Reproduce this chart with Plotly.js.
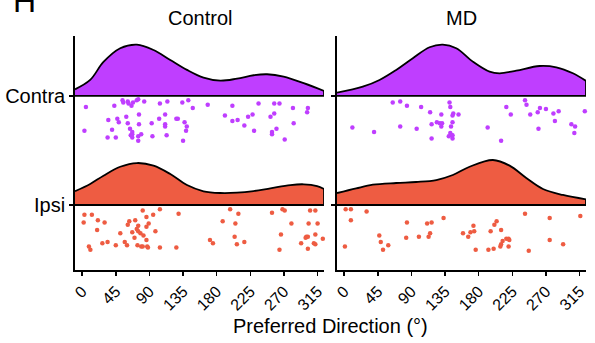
<!DOCTYPE html>
<html>
<head>
<meta charset="utf-8">
<script src="https://cdn.plot.ly/plotly-3.0.1.min.js"></script>
<style>html,body{margin:0;padding:0;background:#fff;}#chart{width:595px;height:343px;}</style>
</head>
<body>
<div id="chart"></div>
<script>
// ---- data ----
const panels = ["Control", "MD"];
const groups = ["Ipsi", "Contra"];
const tickValues = [0, 45, 90, 135, 180, 225, 270, 315];

// density ridges (x in degrees, height in row units)
const ctrlContraDensX = [-9.6, 10.7, 28.5, 50.9, 73.3, 95.5, 117.9, 140.2, 162.4, 184.8, 207.2, 229.4, 247.4, 269.6, 296.4, 323.6];
const ctrlContraDensH = [0.061, 0.147, 0.312, 0.438, 0.471, 0.422, 0.330, 0.239, 0.168, 0.140, 0.159, 0.190, 0.199, 0.177, 0.117, 0.046];
const mdContraDensX = [-9.6, 24.9, 47.3, 69.6, 91.9, 114.2, 132.0, 150.0, 172.2, 194.6, 208.0, 230.3, 261.5, 283.9, 306.1, 323.6];
const mdContraDensH = [0.030, 0.085, 0.147, 0.239, 0.346, 0.447, 0.471, 0.438, 0.315, 0.223, 0.208, 0.232, 0.275, 0.263, 0.208, 0.138];
const ctrlIpsiDensX = [-9.6, 10.7, 28.5, 50.9, 73.3, 95.5, 117.9, 140.2, 162.4, 184.8, 207.2, 229.4, 251.8, 278.6, 296.4, 314.3, 323.6];
const ctrlIpsiDensH = [0.126, 0.193, 0.269, 0.351, 0.385, 0.361, 0.284, 0.183, 0.126, 0.110, 0.113, 0.128, 0.153, 0.183, 0.190, 0.174, 0.147];
const mdIpsiDensX = [-9.6, 16.1, 38.3, 69.6, 96.4, 123.2, 145.4, 167.8, 199.0, 221.4, 243.7, 266.0, 292.8, 323.6];
const mdIpsiDensH = [0.110, 0.153, 0.186, 0.202, 0.211, 0.229, 0.275, 0.351, 0.413, 0.361, 0.248, 0.147, 0.092, 0.052];

// individual cells: preferred direction and jitter below the ridge baseline (row units)
const ctrlContraX = [5,3,43,54,55,61,62,66,68,73,75,83,104,114,134,142,148,168,201,236,257,264,282,302,301,35,47,49,59,76,61,76,93,103,111,111,111,126,128,137,140,139,40,64,67,67,65,67,34,45,75,79,75,94,113,135,191,201,208,217,222,228,230,252,257,260,254,254,271,283];
const ctrlContraJ = [.10,.32,.09,.04,.06,.05,.07,.09,.06,.04,.03,.05,.07,.05,.06,.04,.11,.08,.09,.07,.07,.07,.11,.11,.15,.22,.21,.24,.19,.17,.25,.26,.25,.21,.17,.26,.28,.21,.21,.24,.28,.32,.31,.30,.33,.35,.36,.38,.38,.38,.37,.35,.41,.37,.36,.41,.18,.23,.22,.27,.19,.17,.32,.19,.16,.30,.33,.35,.40,.25];
const mdContraX = [65,75,84,103,115,130,141,142,146,145,153,11,40,75,97,117,124,128,131,130,145,143,142,140,144,145,145,117,192,210,217,223,242,244,249,259,262,270,280,287,282,260,304,309,308,322];
const mdContraJ = [.06,.05,.09,.10,.15,.17,.06,.10,.16,.18,.17,.29,.33,.28,.30,.26,.24,.25,.25,.28,.24,.28,.34,.37,.36,.36,.39,.39,.29,.41,.10,.17,.04,.08,.17,.15,.11,.12,.16,.14,.23,.30,.26,.28,.34,.14];
const ctrlIpsiX = [3,13,2,21,30,20,9,11,27,34,45,51,57,60,61,63,71,67,73,75,75,78,70,81,86,89,86,82,86,74,79,81,87,88,95,104,98,104,129,126,171,175,188,198,209,205,204,207,217,254,268,271,280,266,264,305,312,303,315,312,300,302,299,293,310,312,302,322];
const ctrlIpsiJ = [.09,.09,.16,.14,.16,.23,.38,.41,.35,.34,.37,.26,.34,.37,.18,.15,.14,.25,.22,.19,.24,.26,.30,.05,.11,.17,.20,.28,.32,.37,.38,.38,.38,.39,.09,.04,.24,.39,.08,.39,.32,.35,.15,.04,.08,.17,.29,.36,.34,.07,.04,.05,.17,.27,.41,.05,.05,.17,.17,.27,.29,.29,.30,.35,.35,.36,.40,.31];
const mdIpsiX = [2,9,9,30,1,47,49,52,59,84,83,100,111,117,115,113,133,159,166,169,174,173,176,193,200,196,201,204,210,212,210,209,217,220,221,220,242,247,275,275,293,316];
const mdIpsiJ = [.04,.04,.14,.06,.38,.28,.34,.41,.37,.16,.30,.29,.17,.16,.26,.29,.12,.26,.29,.25,.24,.19,.41,.41,.40,.24,.18,.15,.23,.33,.36,.38,.31,.31,.32,.38,.08,.42,.12,.32,.36,.10];

// ---- styling ----
const FONT = "Liberation Sans, Arial, sans-serif";
const colContra = "#BF3EFF";
const colIpsi = "#EE5C42";
const XR = [-9.6, 323.6];
const YR = [0.404, 2.55];
const LW = 1.8;

const traces = [];
function ridge(xa, ya, xs, hs, base, color) {
  traces.push({x: [xs[0], xs[xs.length-1]], y: [base, base], xaxis: xa, yaxis: ya,
    mode: "lines", line: {color: "rgba(0,0,0,0)", width: 0}, hoverinfo: "skip", showlegend: false});
  traces.push({x: xs, y: hs.map(h => base + h), xaxis: xa, yaxis: ya, mode: "lines",
    line: {color: "black", width: LW, shape: "spline", smoothing: 1}, fill: "tonexty", fillcolor: color,
    hoverinfo: "skip", showlegend: false});
  traces.push({x: [xs[0], xs[xs.length-1]], y: [base, base], xaxis: xa, yaxis: ya, mode: "lines",
    line: {color: "black", width: LW}, hoverinfo: "skip", showlegend: false});
  const n = xs.length - 1;
  traces.push({x: [xs[n], xs[n]], y: [base, base + hs[n]], xaxis: xa, yaxis: ya, mode: "lines",
    line: {color: "black", width: LW}, hoverinfo: "skip", showlegend: false});
}
function pts(xa, ya, xs, js, base, color) {
  traces.push({x: xs, y: js.map(j => base - j), xaxis: xa, yaxis: ya, mode: "markers",
    marker: {color: color, size: 4.5}, hoverinfo: "skip", showlegend: false, cliponaxis: false});
}
const baseContra = 2, baseIpsi = 1;
ridge("x", "y", ctrlIpsiDensX, ctrlIpsiDensH, baseIpsi, colIpsi);
ridge("x", "y", ctrlContraDensX, ctrlContraDensH, baseContra, colContra);
pts("x", "y", ctrlContraX, ctrlContraJ, baseContra, colContra);
pts("x", "y", ctrlIpsiX, ctrlIpsiJ, baseIpsi, colIpsi);
ridge("x2", "y2", mdIpsiDensX, mdIpsiDensH, baseIpsi, colIpsi);
ridge("x2", "y2", mdContraDensX, mdContraDensH, baseContra, colContra);
pts("x2", "y2", mdContraX, mdContraJ, baseContra, colContra);
pts("x2", "y2", mdIpsiX, mdIpsiJ, baseIpsi, colIpsi);

const xCommon = {range: XR, tickvals: tickValues, ticktext: tickValues.map(String), tickangle: -45,
  ticks: "outside", ticklen: 4, tickwidth: 1.5, tickcolor: "black", showline: true, linecolor: "black",
  linewidth: LW, showgrid: false, zeroline: false, tickfont: {family: FONT, size: 16, color: "black"}};
const yCommon = {range: YR, tickvals: [baseIpsi, baseContra], ticktext: groups,
  ticks: "outside", ticklen: 4, tickwidth: 1.5, tickcolor: "black", showline: true, linecolor: "black",
  linewidth: LW, showgrid: false, zeroline: false, tickfont: {family: FONT, size: 20, color: "black"}};

const layout = {
  width: 595, height: 343, paper_bgcolor: "white", plot_bgcolor: "white",
  margin: {l: 75, r: 9, t: 36, b: 73},
  showlegend: false,
  xaxis: Object.assign({}, xCommon, {domain: [0, 0.4873], anchor: "y"}),
  xaxis2: Object.assign({}, xCommon, {domain: [0.5127, 1], anchor: "y2"}),
  yaxis: Object.assign({}, yCommon, {anchor: "x"}),
  yaxis2: Object.assign({}, yCommon, {anchor: "x2", showticklabels: false}),
  annotations: [
    {text: panels[0], x: 0.2437, y: 1.077, xref: "paper", yref: "paper", xanchor: "center", yanchor: "middle",
     showarrow: false, font: {family: FONT, size: 20, color: "black"}},
    {text: panels[1], x: 0.7563, y: 1.077, xref: "paper", yref: "paper", xanchor: "center", yanchor: "middle",
     showarrow: false, font: {family: FONT, size: 20, color: "black"}},
    {text: "Preferred Direction (°)", x: 0.5, y: -0.239, xref: "paper", yref: "paper", xanchor: "center", yanchor: "middle",
     showarrow: false, font: {family: FONT, size: 20, color: "black"}},
    {text: "H", x: -0.0988, y: 1.15, xref: "paper", yref: "paper", xanchor: "center", yanchor: "middle",
     showarrow: false, font: {family: FONT, size: 32, color: "black"}}
  ]
};
Plotly.newPlot("chart", traces, layout, {staticPlot: true, displayModeBar: false});
</script>
</body>
</html>
